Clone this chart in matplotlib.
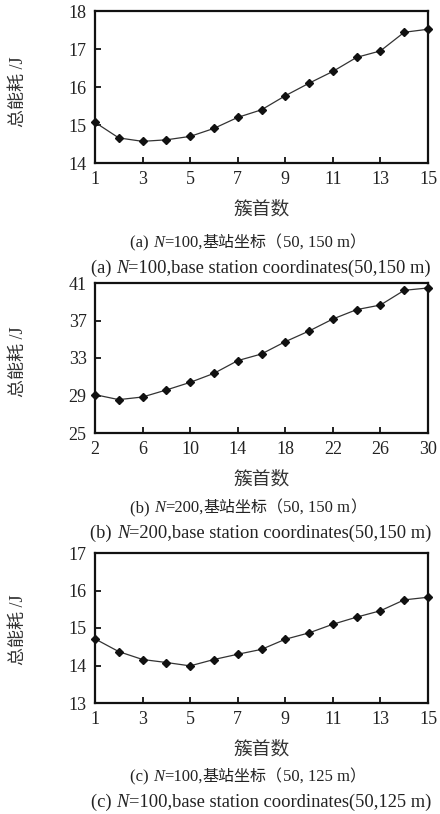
import matplotlib

matplotlib.use("Agg")
import matplotlib.pyplot as plt
from matplotlib.offsetbox import AnnotationBbox, HPacker, TextArea

# panel (a): N=100, base station (50,150 m)
heads_a = list(range(1, 16))
energy_a = [15.07, 14.66, 14.57, 14.61, 14.70, 14.91, 15.20, 15.40,
            15.77, 16.10, 16.41, 16.78, 16.95, 17.44, 17.52]

# panel (b): N=200, base station (50,150 m)
heads_b = list(range(2, 31, 2))
energy_b = [29.09, 28.56, 28.84, 29.59, 30.40, 31.36, 32.72, 33.43,
            34.74, 35.88, 37.16, 38.16, 38.65, 40.22, 40.47]

# panel (c): N=100, base station (50,125 m)
heads_c = list(range(1, 16))
energy_c = [14.71, 14.37, 14.16, 14.08, 13.99, 14.16, 14.30, 14.43,
            14.70, 14.87, 15.10, 15.29, 15.46, 15.75, 15.82]

panels = [
    dict(x=heads_a, y=energy_a, xticks=list(range(1, 16, 2)), yticks=[14, 15, 16, 17, 18],
         xlim=(1, 15), ylim=(14, 18), tag="(a) ", n="100", site="50, 150 m", site_en="50,150 m"),
    dict(x=heads_b, y=energy_b, xticks=list(range(2, 31, 4)), yticks=[25, 29, 33, 37, 41],
         xlim=(2, 30), ylim=(25, 41), tag="(b) ", n="200", site="50, 150 m", site_en="50,150 m"),
    dict(x=heads_c, y=energy_c, xticks=list(range(1, 16, 2)), yticks=[13, 14, 15, 16, 17],
         xlim=(1, 15), ylim=(13, 17), tag="(c) ", n="100", site="50, 125 m", site_en="50,125 m"),
]

FAM = ["Liberation Serif", "Noto Sans CJK SC"]
W, H = 440, 814

fig = plt.figure(figsize=(W / 100, H / 100), dpi=100)

# pixel layout of each panel: (top, bottom) of the axes box, label rows
boxes = [(11, 163), (283, 433), (553, 703)]
xlabel_y = [210, 480, 750]
cap_y = [(243, 268), (508, 533), (777, 802)]
ylabel_y = [92, 362, 630]
left, right = 95, 428


def caption(fig, cx, cy, parts):
    areas = []
    for txt, style, size in parts:
        areas.append(TextArea(txt, textprops=dict(family=FAM, size=size, style=style, color="#222222")))
    box = HPacker(children=areas, align="baseline", pad=0, sep=0)
    ab = AnnotationBbox(box, (cx, H - cy), xycoords="figure pixels", frameon=False,
                        box_alignment=(0.5, 0.5), pad=0)
    fig.add_artist(ab)


for p, (top, bot), xl, (c1, c2), yl in zip(panels, boxes, xlabel_y, cap_y, ylabel_y):
    ax = fig.add_axes([left / W, 1 - bot / H, (right - left) / W, (bot - top) / H])
    ax.plot(p["x"], p["y"], color="#333333", lw=0.9, marker="D", ms=4.5,
            mfc="#111111", mec="#111111", clip_on=False, zorder=3)
    ax.set_xlim(*p["xlim"])
    ax.set_ylim(*p["ylim"])
    ax.set_xticks(p["xticks"])
    ax.set_yticks(p["yticks"])
    for s in ax.spines.values():
        s.set_linewidth(1.6)
        s.set_color("#111111")
    ax.tick_params(direction="in", length=4, width=1.3, top=False, right=False,
                   labelsize=13, pad=6, colors="#111111")
    for lab in ax.get_xticklabels() + ax.get_yticklabels():
        lab.set_family(FAM)
        lab.set_color("#222222")

    fig.text((left + right) / 2 / W, 1 - xl / H, "簇首数", family=FAM, size=13.5,
             ha="center", va="center", color="#333333")
    fig.text(18 / W, 1 - yl / H, "总能耗 /J", family=FAM, size=13, rotation=90,
             ha="center", va="center", color="#333333")

    lat, cjk = 12, 11.5
    caption(fig, 248, c1, [(p["tag"], "normal", lat), ("N", "italic", lat),
                           ("=" + p["n"] + ",", "normal", lat), ("基站坐标（", "normal", cjk),
                           (p["site"], "normal", lat), ("）", "normal", cjk)])
    caption(fig, 261, c2, [(p["tag"], "normal", 13.3), ("N", "italic", 13.3),
                           ("=" + p["n"] + ",base station coordinates(" + p["site_en"] + ")",
                            "normal", 13.3)])

fig.savefig("out.png", dpi=100)
